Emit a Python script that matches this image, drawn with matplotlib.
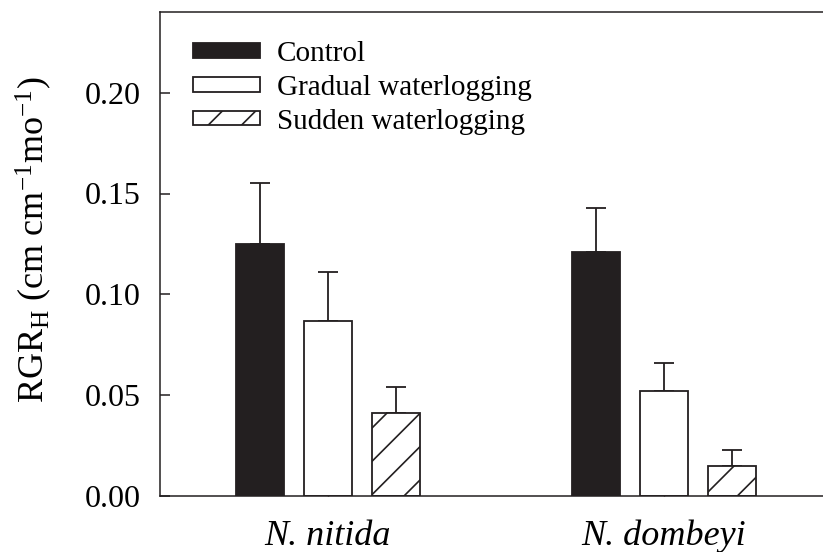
import numpy as np
import matplotlib
matplotlib.use("Agg")
import matplotlib.pyplot as plt

# values
species = ["N. nitida", "N. dombeyi"]
treatments = ["Control", "Gradual waterlogging", "Sudden waterlogging"]
means = {
    "Control": [0.125, 0.121],
    "Gradual waterlogging": [0.087, 0.052],
    "Sudden waterlogging": [0.041, 0.015],
}
errs = {
    "Control": [0.030, 0.022],
    "Gradual waterlogging": [0.024, 0.014],
    "Sudden waterlogging": [0.013, 0.008],
}

plt.rcParams['font.family'] = ['Liberation Serif', 'DejaVu Serif']
plt.rcParams['mathtext.fontset'] = 'custom'
plt.rcParams['mathtext.rm'] = 'Liberation Serif'
plt.rcParams['mathtext.it'] = 'Liberation Serif:italic'
plt.rcParams['hatch.linewidth'] = 1.2

ink = '#231f20'
fill = {"Control": ink, "Gradual waterlogging": 'white', "Sudden waterlogging": 'white'}
hatch = {"Control": None, "Gradual waterlogging": None, "Sudden waterlogging": '/'}

fig = plt.figure(figsize=(8.23, 5.52), dpi=100)
ax = fig.add_axes([160 / 823, 56 / 552, 672 / 823, 484 / 552])

x = np.arange(len(species))
w = 0.143
step = 0.202
for i, t in enumerate(treatments):
    pos = x + (i - 1) * step
    ax.bar(pos, means[t], w, color=fill[t], edgecolor=ink, linewidth=1.3,
           hatch=hatch[t], label=t, zorder=2)
    ax.errorbar(pos, means[t], yerr=[np.zeros(len(species)), errs[t]], fmt='none',
                ecolor=ink, elinewidth=1.3, capsize=7.5, capthick=1.3, zorder=1)

ax.set_xlim(-0.5, 1.5)
ax.set_ylim(0, 0.24)
ax.set_yticks([0.0, 0.05, 0.10, 0.15, 0.20])
ax.set_yticklabels(["0.00", "0.05", "0.10", "0.15", "0.20"])
ax.set_xticks(x)
ax.set_xticklabels(species, fontstyle='italic', fontsize=26)
ax.tick_params(axis='y', direction='in', length=7, width=1.1, labelsize=23, pad=14, color=ink)
ax.tick_params(axis='x', direction='in', length=3, width=1.0, pad=17, color=ink)
for s in ax.spines.values():
    s.set_linewidth(1.1)
    s.set_color(ink)

ax.set_ylabel(r"RGR$_\mathrm{H}$ (cm cm$^{\mathrm{-1}}$mo$^{\mathrm{-1}}$)", fontsize=26)
ax.yaxis.set_label_coords(-0.158, 0.53)

ax.legend(loc='upper left', bbox_to_anchor=(33 / 672, 1 - 29 / 484), frameon=False,
          fontsize=21, handlelength=2.3, handleheight=0.38, handletextpad=0.58,
          labelspacing=0.27, borderpad=0, borderaxespad=0)

fig.savefig("out.png", dpi=100)
